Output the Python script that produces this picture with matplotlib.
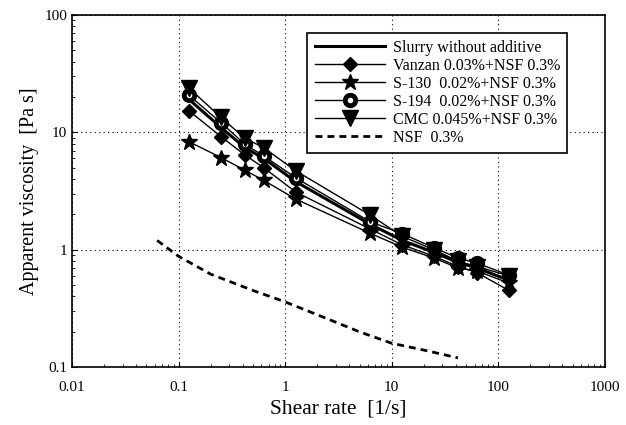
import matplotlib
matplotlib.use("Agg")
import matplotlib.pyplot as plt
from matplotlib.legend_handler import HandlerTuple

plt.rcParams['font.family'] = ['Liberation Serif', 'DejaVu Serif']

# shear rates [1/s]
rate = [0.126, 0.25, 0.42, 0.63, 1.26, 6.3, 12.6, 25, 42, 63, 126]

# apparent viscosity [Pa s]
slurry = [19.0, 11.0, 7.4, 6.0, 3.8, 1.65, 1.2, 0.95, 0.78, 0.70, 0.55]
vanzan = [15.2, 9.2, 6.4, 5.0, 3.1, 1.5, 1.1, 0.88, 0.72, 0.64, 0.45]
s130 = [8.3, 6.1, 4.75, 3.9, 2.7, 1.38, 1.05, 0.85, 0.70, 0.66, 0.52]
s194 = [20.6, 12.1, 7.9, 6.3, 4.1, 1.73, 1.37, 1.04, 0.85, 0.77, 0.61]
cmc = [23.7, 13.4, 8.9, 7.4, 4.7, 1.97, 1.30, 1.0, 0.80, 0.72, 0.60]

nsf_rate = [0.063, 0.1, 0.2, 0.5, 1, 2, 5, 10, 20, 42]
nsf = [1.2, 0.88, 0.62, 0.45, 0.36, 0.28, 0.2, 0.16, 0.14, 0.12]

fig = plt.figure(figsize=(6.26, 4.25), dpi=100)
ax = fig.add_axes([0.115, 0.136, 0.851, 0.829])

h0, = ax.plot(rate, slurry, color='black', lw=2.2)
h1, = ax.plot(rate, vanzan, color='black', lw=1, marker='D', ms=7)
h2, = ax.plot(rate, s130, color='black', lw=1, marker='*', ms=12)
h3, = ax.plot(rate, s194, color='black', lw=1, marker='o', ms=10)
h3b, = ax.plot(rate, s194, ls='none', marker='o', ms=3, color='white')
h4, = ax.plot(rate, cmc, color='black', lw=1, marker='v', ms=12)
h5, = ax.plot(nsf_rate, nsf, color='black', lw=2, ls=(0, (2.5, 1.8)))

ax.set_xscale('log')
ax.set_yscale('log')
ax.set_xlim(0.01, 1000)
ax.set_ylim(0.1, 100)
ax.set_xticks([0.01, 0.1, 1, 10, 100, 1000])
ax.set_xticklabels(['0.01', '0.1', '1', '10', '100', '1000'])
ax.set_yticks([0.1, 1, 10, 100])
ax.set_yticklabels(['0.1', '1', '10', '100'])
ax.tick_params(which='both', direction='in', labelsize=11)
ax.tick_params(axis='x', pad=10)
ax.grid(True, which='major', ls=(0, (1, 3)), color='black', lw=0.8)
for s in ax.spines.values():
    s.set_linewidth(1.2)

ax.set_xlabel('Shear rate  [1/s]', fontsize=15.5)
ax.set_ylabel('Apparent viscosity  [Pa s]', fontsize=14.5)

labels = ['Slurry without additive', 'Vanzan 0.03%+NSF 0.3%', 'S-130  0.02%+NSF 0.3%',
          'S-194  0.02%+NSF 0.3%', 'CMC 0.045%+NSF 0.3%', 'NSF  0.3%']
leg = ax.legend([h0, h1, h2, (h3, h3b), h4, h5], labels,
                handler_map={tuple: HandlerTuple(ndivide=1, pad=0)},
                loc='upper right', bbox_to_anchor=(0.93, 0.949), borderaxespad=0,
                fontsize=11.5, fancybox=False, edgecolor='black', framealpha=1,
                handlelength=4.4, labelspacing=0.12, borderpad=0.45, handletextpad=0.5)
leg.get_frame().set_linewidth(1.2)

fig.savefig('out.png', dpi=100)
